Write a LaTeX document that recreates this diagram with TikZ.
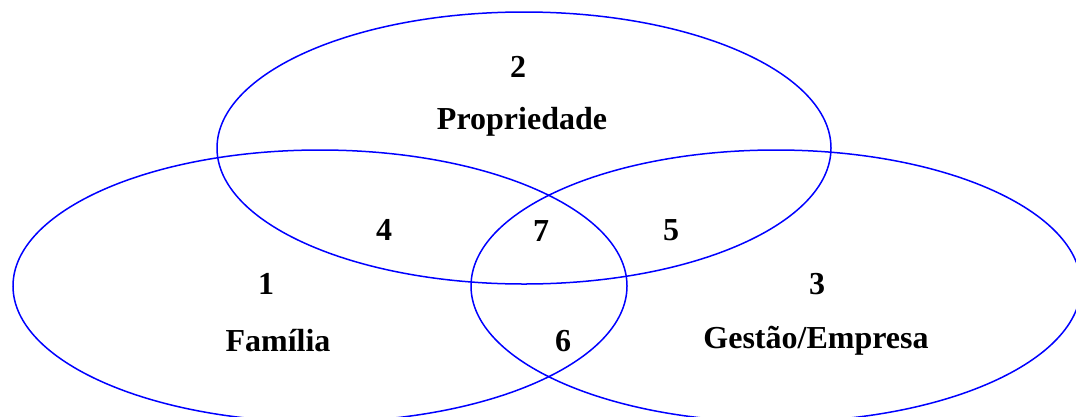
\documentclass[tikz,border=0pt]{standalone}
\usepackage{fontspec}
\setmainfont{Liberation Serif}
\tikzset{
  circ/.style={draw=blue, line width=1.5pt},
  lbl/.style={font=\fontsize{32}{36}\selectfont\bfseries, inner sep=0pt}
}
\begin{document}
\begin{tikzpicture}[x=1pt,y=-1pt]
\clip (0,0) rectangle (1076,416);
\draw[circ] (524,148) ellipse [x radius=307, y radius=136];
\draw[circ] (320,286) ellipse [x radius=307, y radius=136];
\draw[circ] (776,286) ellipse [x radius=305, y radius=136];

\node[lbl] (n2) at (518,67) {2};
\node[lbl] (prop) at (522,122) {Propriedade};
\node[lbl] (n4) at (384,230) {4};
\node[lbl] (n7) at (541,231) {7};
\node[lbl] (n5) at (671,230) {5};
\node[lbl] (n1) at (266,284) {1};
\node[lbl] (n3) at (817,284) {3};
\node[lbl] (fam) at (278,341) {Família};
\node[lbl] (n6) at (563,341) {6};
\node[lbl] (gest) at (816,341) {Gestão/Empresa};
\end{tikzpicture}
\end{document}
